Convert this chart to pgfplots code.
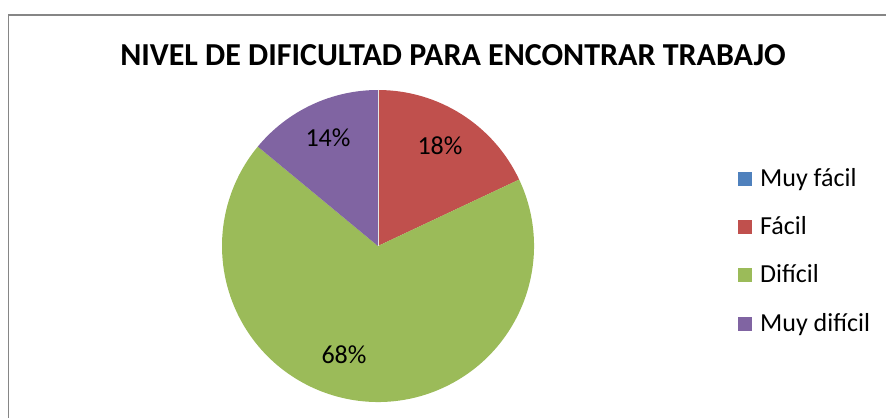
\documentclass[border=0pt]{standalone}
\usepackage{pgfplots}
\pgfplotsset{compat=1.18}
\usepackage{pgfplotstable}
\usepackage{fontspec}
\setmainfont{Carlito}
\definecolor{s0}{HTML}{4F81BD}
\definecolor{s1}{HTML}{C0504D}
\definecolor{s2}{HTML}{9BBB59}
\definecolor{s3}{HTML}{8064A2}
\definecolor{frame}{HTML}{868686}

% value in percent; lx, ly = centre of the data label
\pgfplotstableread{
label value lx ly
{Muy fácil} 0 378 300
{Fácil} 18 440 272.7
{Difícil} 68 344 63
{Muy difícil} 14 328 280
}\piedata

\begin{document}
\begin{tikzpicture}
% slices clockwise from 12 o'clock, built as literal commands
\def\acc{90}
\def\piecmds{}
\def\legcmds{}
\pgfplotsforeachungrouped \i in {0,...,3}{%
  \pgfplotstablegetelem{\i}{value}\of\piedata
  \let\val\pgfplotsretval
  \pgfplotstablegetelem{\i}{lx}\of\piedata
  \let\lx\pgfplotsretval
  \pgfplotstablegetelem{\i}{ly}\of\piedata
  \let\lly\pgfplotsretval
  \let\sa\acc
  \pgfmathsetmacro\ea{\sa-3.6*\val}%
  \ifdim\val pt>0pt
    \xdef\piecmds{\unexpanded\expandafter{\piecmds}%
      \noexpand\fill[s\i] (axis cs:378,172) -- ++(\sa:156pt)
        arc[start angle=\sa, end angle=\ea, radius=156pt] -- cycle;
      \noexpand\node[font=\noexpand\fontsize{26}{26}\noexpand\selectfont]
        at (axis cs:\lx,\lly) {\val\noexpand\%};}%
  \fi
  \global\let\acc\ea
  \pgfplotstablegetelem{\i}{label}\of\piedata
  \pgfmathsetmacro\ly{231.3-\i*48.1}%
  \pgfmathsetmacro\sy{\ly+7.5-7}%
  \xdef\legcmds{\unexpanded\expandafter{\legcmds}%
    \noexpand\fill[s\i] (axis cs:738,\sy) rectangle ++(14pt,14pt);
    \noexpand\node[anchor=base west,inner sep=0pt,
      font=\noexpand\fontsize{26}{26}\noexpand\selectfont]
      at (axis cs:760,\ly) {\unexpanded\expandafter{\pgfplotsretval}};}%
}
\begin{axis}[x=1pt,y=1pt,xmin=0,xmax=886,ymin=0,ymax=418,
  hide axis,clip=false,scale only axis]
  \coordinate (BL) at (axis cs:0,0);
  \coordinate (TR) at (axis cs:886,418);
  \draw[frame,line width=1.5pt] (axis cs:8.5,0) -- (axis cs:8.5,403) -- (axis cs:886,403);
  \piecmds
  \draw[white!80!gray,line width=0.6pt] (axis cs:378,172) -- ++(90:156pt);
  \node[anchor=base,font=\fontsize{32}{32}\selectfont\bfseries] at (axis cs:453,352.5)
    {NIVEL DE DIFICULTAD PARA ENCONTRAR TRABAJO};
  \legcmds
\end{axis}
\pgfresetboundingbox
\path (BL) rectangle (TR);
\end{tikzpicture}
\end{document}
